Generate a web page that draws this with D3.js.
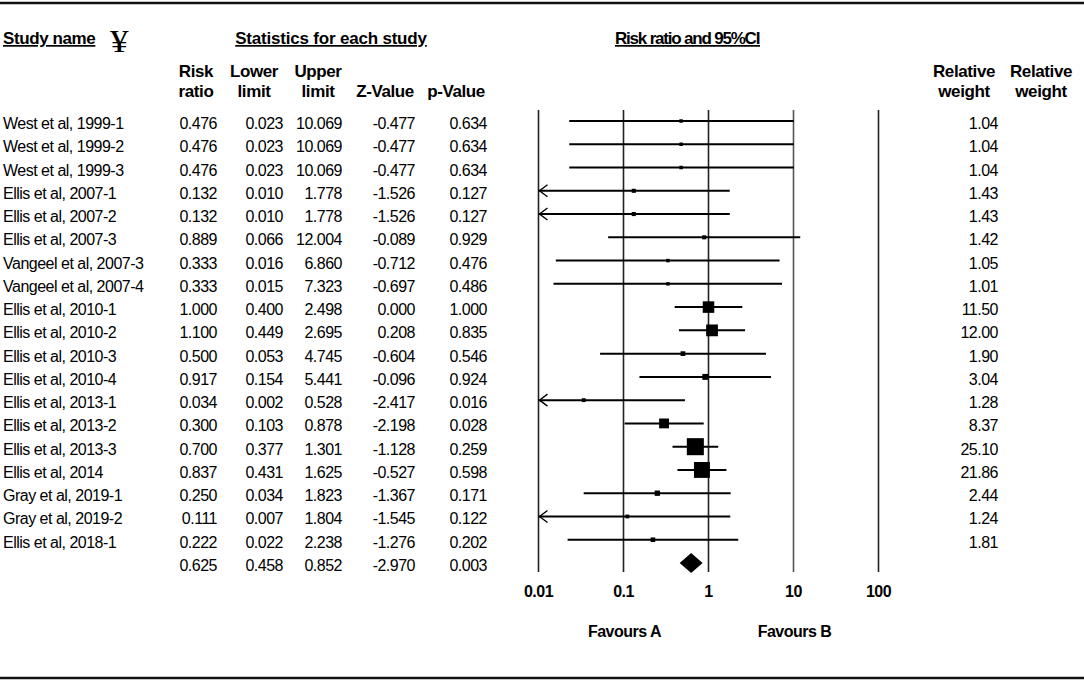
<!DOCTYPE html>
<html>
<head>
<meta charset="utf-8">
<script src="https://cdn.jsdelivr.net/npm/d3@7"></script>
<style>
  body { margin: 0; background: #fff; }
  text { font-family: "Liberation Sans", Arial, sans-serif; font-size: 16px; letter-spacing: -0.5px; fill: #000; }
  .bold { font-weight: bold; }
  .head { font-weight: bold; font-size: 17px; letter-spacing: -0.4px; }
</style>
</head>
<body>
<div id="forest"></div>
<script>
// study rows
let studyNames = ["West et al, 1999-1", "West et al, 1999-2", "West et al, 1999-3",
    "Ellis et al, 2007-1", "Ellis et al, 2007-2", "Ellis et al, 2007-3",
    "Vangeel et al, 2007-3", "Vangeel et al, 2007-4",
    "Ellis et al, 2010-1", "Ellis et al, 2010-2", "Ellis et al, 2010-3", "Ellis et al, 2010-4",
    "Ellis et al, 2013-1", "Ellis et al, 2013-2", "Ellis et al, 2013-3", "Ellis et al, 2014",
    "Gray et al, 2019-1", "Gray et al, 2019-2", "Ellis et al, 2018-1"];
let riskRatio = [0.476, 0.476, 0.476, 0.132, 0.132, 0.889, 0.333, 0.333, 1.000, 1.100, 0.500, 0.917, 0.034, 0.300, 0.700, 0.837, 0.250, 0.111, 0.222];
let lowerLimit = [0.023, 0.023, 0.023, 0.010, 0.010, 0.066, 0.016, 0.015, 0.400, 0.449, 0.053, 0.154, 0.002, 0.103, 0.377, 0.431, 0.034, 0.007, 0.022];
let upperLimit = [10.069, 10.069, 10.069, 1.778, 1.778, 12.004, 6.860, 7.323, 2.498, 2.695, 4.745, 5.441, 0.528, 0.878, 1.301, 1.625, 1.823, 1.804, 2.238];
let zValue = [-0.477, -0.477, -0.477, -1.526, -1.526, -0.089, -0.712, -0.697, 0.000, 0.208, -0.604, -0.096, -2.417, -2.198, -1.128, -0.527, -1.367, -1.545, -1.276];
let pValue = [0.634, 0.634, 0.634, 0.127, 0.127, 0.929, 0.476, 0.486, 1.000, 0.835, 0.546, 0.924, 0.016, 0.028, 0.259, 0.598, 0.171, 0.122, 0.202];
let relWeight = [1.04, 1.04, 1.04, 1.43, 1.43, 1.42, 1.05, 1.01, 11.50, 12.00, 1.90, 3.04, 1.28, 8.37, 25.10, 21.86, 2.44, 1.24, 1.81];

// pooled estimate
let summary = { rr: 0.625, lower: 0.458, upper: 0.852, z: -2.970, p: 0.003 };

let axisTicks = [0.01, 0.1, 1, 10, 100];
let tickLabels = ["0.01", "0.1", "1", "10", "100"];
let favourLabels = ["Favours A", "Favours B"];

let width = 1084, height = 683;
let svg = d3.select('#forest').append('svg')
    .attr('width', width).attr('height', height);

let nRows = studyNames.length + 1;
let yScale = d3.scaleLinear().domain([0, nRows - 1]).range([121, 563]);
let xScale = d3.scaleLog().domain([0.01, 100]).range([538.5, 878.5]);
let lo = xScale.domain()[0];

// top and bottom rules
svg.append('line').attr('x1', 0).attr('x2', width).attr('y1', 3).attr('y2', 3)
    .attr('stroke', '#111').attr('stroke-width', 2.5);
svg.append('line').attr('x1', 0).attr('x2', width).attr('y1', 678).attr('y2', 678)
    .attr('stroke', '#111').attr('stroke-width', 2.5);

// headers
let headers = svg.append('g').classed('headers', true);
headers.append('text').classed('head', true).attr('x', 3).attr('y', 44)
    .style('text-decoration', 'underline').text('Study name');
headers.append('text').attr('x', 110).attr('y', 52)
    .style('font-family', '"Liberation Serif", serif').style('font-size', '31px')
    .attr('textLength', 18).attr('lengthAdjust', 'spacingAndGlyphs')
    .text('¥');
headers.append('text').classed('head', true).attr('x', 331).attr('y', 44)
    .attr('text-anchor', 'middle').style('letter-spacing', '-0.2px')
    .style('text-decoration', 'underline').text('Statistics for each study');
headers.append('text').classed('head', true).attr('x', 615).attr('y', 44)
    .attr('textLength', 145).attr('lengthAdjust', 'spacing')
    .style('text-decoration', 'underline').text('Risk ratio and 95%CI');

let colHeads = [
    { x: 196, a: 'Risk', b: 'ratio' },
    { x: 254, a: 'Lower', b: 'limit' },
    { x: 318, a: 'Upper', b: 'limit' },
    { x: 385, a: '', b: 'Z-Value' },
    { x: 456, a: '', b: 'p-Value' },
    { x: 964, a: 'Relative', b: 'weight' },
    { x: 1041, a: 'Relative', b: 'weight' }
];
colHeads.forEach(h => {
    headers.append('text').classed('head', true).attr('x', h.x).attr('y', 77)
        .attr('text-anchor', 'middle').text(h.a);
    headers.append('text').classed('head', true).attr('x', h.x).attr('y', 97)
        .attr('text-anchor', 'middle').text(h.b);
});

// table columns (right aligned)
let rows = studyNames.map((d, i) => ({
    name: d, rr: riskRatio[i], lower: lowerLimit[i], upper: upperLimit[i],
    z: zValue[i], p: pValue[i], w: relWeight[i]
}));
let allRows = rows.concat([Object.assign({ name: '', w: null }, summary)]);

let f3 = d3.format('.3f');
let cols = [
    { key: 'rr', x: 217 }, { key: 'lower', x: 283 }, { key: 'upper', x: 342 },
    { key: 'z', x: 415 }, { key: 'p', x: 487 }
];

let table = svg.append('g').classed('table', true);
table.selectAll('.name').data(allRows).join('text').classed('name', true)
    .attr('x', 3).attr('y', (d, i) => yScale(i) + 8).text(d => d.name);
cols.forEach(c => {
    table.selectAll('.col-' + c.key).data(allRows).join('text').classed('col-' + c.key, true)
        .attr('x', c.x).attr('y', (d, i) => yScale(i) + 8)
        .attr('text-anchor', 'end')
        .text(d => f3(d[c.key]).replace('−', '-'));
});
table.selectAll('.weight').data(rows).join('text').classed('weight', true)
    .attr('x', 998).attr('y', (d, i) => yScale(i) + 8)
    .attr('text-anchor', 'end').text(d => d3.format('.2f')(d.w));

// reference lines at each decade
let plot = svg.append('g').classed('plot', true);
plot.selectAll('.ref').data(axisTicks).join('line').classed('ref', true)
    .attr('x1', d => xScale(d)).attr('x2', d => xScale(d))
    .attr('y1', 110).attr('y2', 572)
    .attr('stroke', (d, i) => i == 3 ? '#555' : '#222').attr('stroke-width', 1.6);

plot.selectAll('.tick-label').data(axisTicks).join('text').classed('tick-label bold', true)
    .attr('x', d => xScale(d)).attr('y', 597)
    .attr('text-anchor', 'middle').text((d, i) => tickLabels[i]);

plot.selectAll('.favour').data(favourLabels).join('text').classed('favour bold', true)
    .attr('x', (d, i) => xScale(i == 0 ? 0.1 : 10) + 1).attr('y', 637)
    .attr('text-anchor', 'middle').text(d => d);

// confidence intervals
plot.selectAll('.ci').data(rows).join('line').classed('ci', true)
    .attr('x1', d => xScale(Math.max(d.lower, lo)))
    .attr('x2', d => xScale(d.upper))
    .attr('y1', (d, i) => yScale(i)).attr('y2', (d, i) => yScale(i))
    .attr('stroke', '#000').attr('stroke-width', 2);

// arrows where the interval runs past 0.01
plot.selectAll('.arrow').data(rows.map((d, i) => ({ d: d, i: i })).filter(e => e.d.lower <= lo))
    .join('path').classed('arrow', true)
    .attr('d', e => {
        let x = xScale(lo) + 1, y = yScale(e.i);
        return 'M' + (x + 8) + ',' + (y - 6) + 'L' + x + ',' + y + 'L' + (x + 8) + ',' + (y + 6);
    })
    .attr('fill', 'none').attr('stroke', '#000').attr('stroke-width', 1.4);

// weight boxes
plot.selectAll('.box').data(rows).join('rect').classed('box', true)
    .attr('x', d => xScale(d.rr) - 1.7 * Math.sqrt(d.w))
    .attr('y', (d, i) => yScale(i) - 1.7 * Math.sqrt(d.w))
    .attr('width', d => 3.4 * Math.sqrt(d.w))
    .attr('height', d => 3.4 * Math.sqrt(d.w))
    .attr('fill', '#000');

// pooled diamond
let ys = yScale(nRows - 1);
plot.append('path').classed('diamond', true)
    .attr('d', 'M' + xScale(summary.lower) + ',' + ys + 'L' + xScale(summary.rr) + ',' + (ys - 10)
        + 'L' + xScale(summary.upper) + ',' + ys + 'L' + xScale(summary.rr) + ',' + (ys + 10) + 'Z')
    .attr('fill', '#000');
</script>
</body>
</html>
